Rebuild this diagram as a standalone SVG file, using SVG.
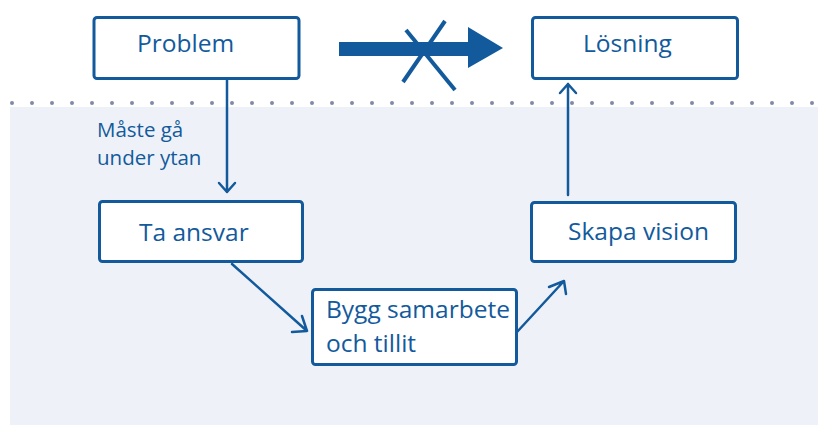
<svg xmlns="http://www.w3.org/2000/svg" width="829" height="428" viewBox="0 0 829 428">
<style>
.box{fill:#ffffff;stroke:#125a9c;stroke-width:3;}
.t{font-family:"Open Sans","Noto Sans",sans-serif;font-size:24.5px;fill:#125a9c;}
.lbl{font-family:"Open Sans","Noto Sans",sans-serif;font-size:20.5px;fill:#125a9c;}
.c{fill:none;stroke:#125a9c;stroke-width:2.5;stroke-linecap:round;stroke-linejoin:round;}
</style>
<rect x="0" y="0" width="829" height="428" fill="#ffffff"/>
<rect x="10" y="107" width="808" height="318" fill="#eef2f8"/>
<line x1="12" y1="103" x2="815" y2="103" stroke="#7f8aab" stroke-width="4" stroke-linecap="round" stroke-dasharray="0 20"/>
<g id="connectors">
  <path d="M339,42 H468 V27 L503,48 L468,68 V56 H339 Z" fill="#125a9c"/>
  <line x1="445" y1="21" x2="403" y2="82" stroke="#125a9c" stroke-width="4"/>
  <line x1="406" y1="30" x2="455" y2="90" stroke="#125a9c" stroke-width="4"/>
  <path class="c" d="M227,80 V192 M219,183 L227,192 L235,183"/>
  <path class="c" d="M232,264 L307,331 M292,332 L307,331 L302,316"/>
  <path class="c" d="M517,332 L564,281 M549,287 L564,281 L566,294"/>
  <path class="c" d="M568,195 V84 M560,93 L568,84 L576,93"/>
</g>
<g id="problem">
  <rect class="box" x="94" y="17.5" width="205" height="61" rx="3"/>
  <text class="t" x="137" y="52">Problem</text>
</g>
<g id="losning">
  <rect class="box" x="532.5" y="17.5" width="205" height="61" rx="3"/>
  <text class="t" x="583" y="52">Lösning</text>
</g>
<g id="label">
  <text class="lbl" x="97" y="137">Måste gå</text>
  <text class="lbl" x="97" y="165">under ytan</text>
</g>
<g id="ta-ansvar">
  <rect class="box" x="99.5" y="201.5" width="203" height="60" rx="3"/>
  <text class="t" x="139" y="241">Ta ansvar</text>
</g>
<g id="bygg">
  <rect class="box" x="312.5" y="289.5" width="204" height="75" rx="3"/>
  <text class="t" x="326" y="318">Bygg samarbete</text>
  <text class="t" x="326" y="352">och tillit</text>
</g>
<g id="skapa-vision">
  <rect class="box" x="531.5" y="202.5" width="204" height="59" rx="3"/>
  <text class="t" x="568" y="240">Skapa vision</text>
</g>
</svg>
